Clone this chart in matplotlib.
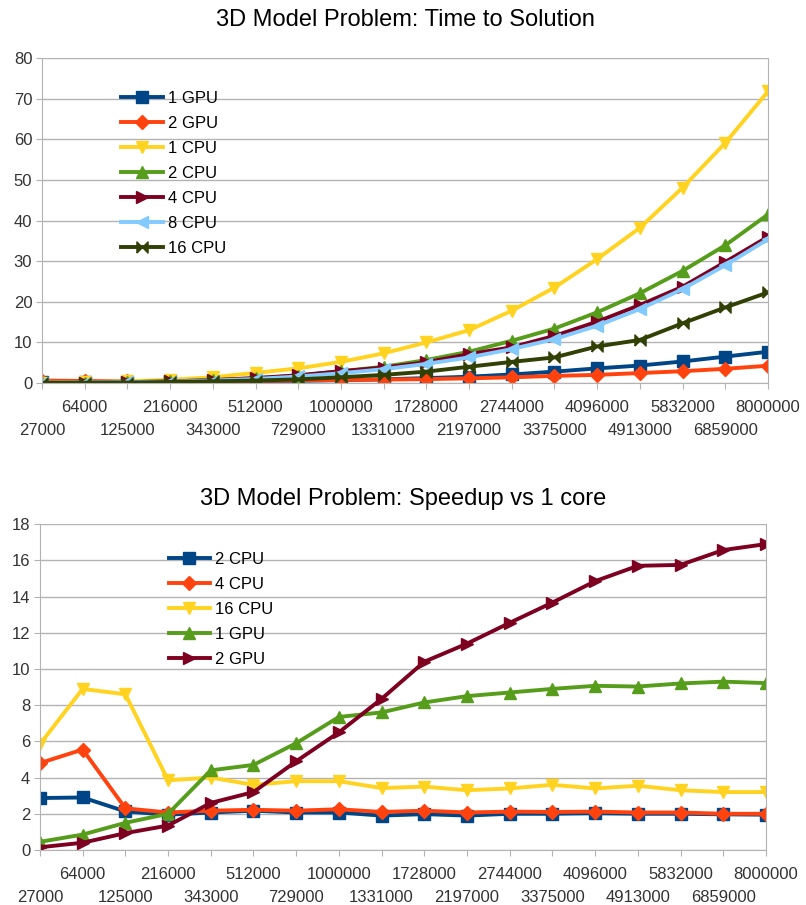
import matplotlib
matplotlib.use("Agg")
import matplotlib.pyplot as plt
import numpy as np

plt.rcParams['font.family'] = ['Liberation Sans', 'DejaVu Sans']

sizes = ["27000", "64000", "125000", "216000", "343000", "512000", "729000", "1000000",
         "1331000", "1728000", "2197000", "2744000", "3375000", "4096000", "4913000",
         "5832000", "6859000", "8000000"]

# Time to solution (seconds)
t_1gpu = [0.2, 0.2, 0.25, 0.4, 0.3, 0.45, 0.55, 0.7, 0.9, 1.2, 1.55, 2.1, 2.8, 3.6, 4.3, 5.3, 6.5, 7.7]
t_2gpu = [0.6, 0.5, 0.4, 0.55, 0.5, 0.55, 0.65, 0.75, 0.85, 0.95, 1.15, 1.4, 1.75, 2.0, 2.45, 2.9, 3.5, 4.25]
t_1cpu = [0.1, 0.2, 0.4, 0.8, 1.4, 2.5, 3.6, 5.2, 7.3, 10.0, 13.0, 17.8, 23.5, 30.5, 38.2, 48.1, 59.1, 71.8]
t_2cpu = [0.05, 0.1, 0.2, 0.4, 0.7, 1.2, 1.8, 2.9, 4.0, 5.65, 7.7, 10.4, 13.4, 17.4, 22.1, 27.6, 33.9, 41.5]
t_4cpu = [0.05, 0.1, 0.2, 0.4, 0.7, 1.2, 1.9, 2.9, 3.8, 5.1, 7.1, 8.8, 11.6, 15.1, 19.2, 23.7, 29.8, 36.0]
t_8cpu = [0.05, 0.1, 0.2, 0.35, 0.6, 1.0, 1.6, 2.4, 3.4, 4.7, 6.3, 8.35, 10.8, 14.1, 18.2, 23.1, 29.0, 35.4]
t_16cpu = [0.02, 0.05, 0.1, 0.25, 0.4, 0.6, 0.9, 1.4, 2.0, 2.8, 4.0, 5.2, 6.3, 9.0, 10.6, 14.7, 18.6, 22.3]

# Speedup vs 1 core
s_2cpu = [2.87, 2.9, 2.13, 1.95, 2.07, 2.17, 2.07, 2.07, 1.9, 1.98, 1.9, 2.0, 2.0, 2.03, 2.0, 2.0, 1.97, 1.95]
s_4cpu = [4.8, 5.55, 2.3, 2.07, 2.17, 2.22, 2.17, 2.25, 2.1, 2.17, 2.07, 2.12, 2.1, 2.12, 2.07, 2.07, 2.0, 2.0]
s_16cpu = [5.85, 8.9, 8.6, 3.85, 4.0, 3.6, 3.8, 3.8, 3.42, 3.5, 3.3, 3.4, 3.6, 3.4, 3.55, 3.3, 3.2, 3.2]
s_1gpu = [0.45, 0.85, 1.5, 2.0, 4.4, 4.7, 5.9, 7.35, 7.6, 8.15, 8.5, 8.7, 8.9, 9.07, 9.03, 9.2, 9.3, 9.22]
s_2gpu = [0.15, 0.4, 0.93, 1.35, 2.6, 3.2, 4.9, 6.5, 8.35, 10.4, 11.4, 12.55, 13.67, 14.85, 15.7, 15.75, 16.57, 16.9]

C_BLUE = "#004586"
C_ORANGE = "#ff420e"
C_YELLOW = "#ffd320"
C_GREEN = "#579d1c"
C_RED = "#7e0021"
C_LBLUE = "#83caff"
C_OLIVE = "#314004"

bowtie = [(-1, -1), (1, 1), (1, -1), (-1, 1), (-1, -1)]

fig = plt.figure(figsize=(8.06, 9.05), dpi=100)
ax1 = fig.add_axes([0.0521, 0.5768, 0.9007, 0.359])
ax2 = fig.add_axes([0.0496, 0.0608, 0.9007, 0.360])

x = np.arange(len(sizes))

def style(ax, ymax, ystep):
    ax.set_xlim(0, len(sizes) - 1)
    ax.set_ylim(0, ymax)
    ax.set_yticks(np.arange(0, ymax + 0.1, ystep))
    ax.set_xticks(x)
    ax.set_xticklabels(sizes)
    ax.yaxis.grid(True, color="#b3b3b3", linewidth=1)
    ax.set_axisbelow(True)
    for sp in ["left", "bottom", "right"]:
        ax.spines[sp].set_color("#b3b3b3")
    ax.spines["top"].set_visible(False)
    ax.tick_params(axis="both", colors="#b3b3b3", labelcolor="#333333", labelsize=12, length=4)
    ax.tick_params(axis="y", pad=3)
    # staggered category labels: even indices on the lower row
    for i, tk in enumerate(ax.xaxis.get_major_ticks()):
        tk.set_pad(24.5 if i % 2 == 0 else 8.5)

lw = 2.8
ms = 8
leg_kw = dict(loc="upper left", frameon=False, fontsize=12, handlelength=2.5,
              labelspacing=0.6, handletextpad=0.3, borderaxespad=0)

ax1.plot(x, t_1gpu, color=C_BLUE, marker="s", ms=ms, lw=lw, label="1 GPU")
ax1.plot(x, t_2gpu, color=C_ORANGE, marker="D", ms=ms - 1, lw=lw, label="2 GPU")
ax1.plot(x, t_1cpu, color=C_YELLOW, marker="v", ms=ms + 1, lw=lw, label="1 CPU")
ax1.plot(x, t_2cpu, color=C_GREEN, marker="^", ms=ms + 1, lw=lw, label="2 CPU")
ax1.plot(x, t_4cpu, color=C_RED, marker=">", ms=ms + 1, lw=lw, label="4 CPU")
ax1.plot(x, t_8cpu, color=C_LBLUE, marker="<", ms=ms + 1, lw=lw, label="8 CPU")
ax1.plot(x, t_16cpu, color=C_OLIVE, marker=bowtie, ms=ms, lw=lw, label="16 CPU")
style(ax1, 80, 10)
ax1.set_title("3D Model Problem: Time to Solution", fontsize=17, pad=23)
ax1.legend(bbox_to_anchor=(0.10, 0.92), **leg_kw)

ax2.plot(x, s_2cpu, color=C_BLUE, marker="s", ms=ms, lw=lw, label="2 CPU")
ax2.plot(x, s_4cpu, color=C_ORANGE, marker="D", ms=ms - 1, lw=lw, label="4 CPU")
ax2.plot(x, s_16cpu, color=C_YELLOW, marker="v", ms=ms + 1, lw=lw, label="16 CPU")
ax2.plot(x, s_1gpu, color=C_GREEN, marker="^", ms=ms + 1, lw=lw, label="1 GPU")
ax2.plot(x, s_2gpu, color=C_RED, marker=">", ms=ms + 1, lw=lw, label="2 GPU")
style(ax2, 18, 2)
ax2.set_title("3D Model Problem: Speedup vs 1 core", fontsize=17, pad=14)
ax2.legend(bbox_to_anchor=(0.168, 0.935), **leg_kw)

fig.savefig("out.png", dpi=100, facecolor="white")
